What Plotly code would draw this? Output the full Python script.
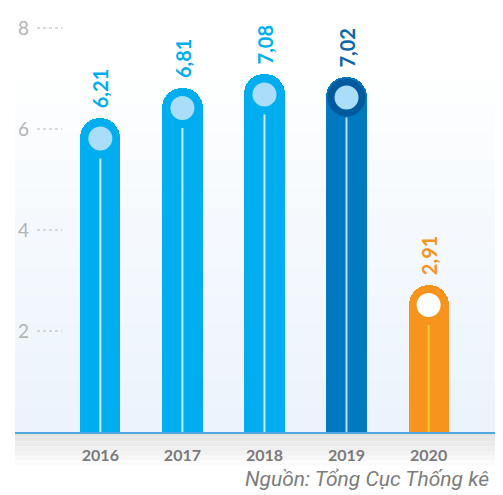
"""Tăng trưởng GDP 2016-2020 (bar chart with rounded caps)."""

import plotly.graph_objects as go

years = ["2016", "2017", "2018", "2019", "2020"]
growth = [6.21, 6.81, 7.08, 7.02, 2.91]
growth_text = ["6,21", "6,81", "7,08", "7,02", "2,91"]
y_ticks = [2, 4, 6, 8]
source = "Nguồn: Tổng Cục Thống kê"

bar_colors = ["#00aeef", "#00aeef", "#00aeef", "#0079c0", "#f7941d"]
label_colors = ["#00aeef", "#00aeef", "#00aeef", "#0a66a8", "#f7941d"]
dot_colors = ["#a9ddf8", "#a9ddf8", "#a9ddf8", "#a9ddf8", "#ffffff"]
ring_colors = ["#00aeef", "#00aeef", "#00aeef", "#005a9e", "#f7941d"]
ring_widths = [0, 0, 0, 7, 0]
dot_sizes = [24, 24, 24, 31, 24]
stem_colors = ["#c9ecfb", "#c9ecfb", "#c9ecfb", "#b7dcf3", "#ffcc33"]

W, H = 503, 495
# the page body has an 8px margin, so the figure is pulled up/left by that much
M = dict(l=7, r=11, t=0, b=71)
plot_h = H - M["t"] - M["b"]
plot_w = W - M["l"] - M["r"]
px_per_unit = 50.5
y_max = plot_h / px_per_unit
cap_r = 20 / px_per_unit  # radius of rounded cap in data units

fig = go.Figure()

fig.add_trace(go.Bar(
    x=years, y=growth, width=0.49,
    marker=dict(color=bar_colors, cornerradius="50%", line_width=0),
    hoverinfo="skip",
))

# thin stem inside each bar
for yr, v, c in zip(years, growth, stem_colors):
    fig.add_trace(go.Scatter(
        x=[yr, yr], y=[0, v - 2 * cap_r], mode="lines",
        line=dict(color=c, width=2), hoverinfo="skip",
    ))

# dot in each cap
fig.add_trace(go.Scatter(
    x=years, y=[v - cap_r for v in growth], mode="markers",
    marker=dict(size=dot_sizes, color=dot_colors, opacity=1,
                line=dict(color=ring_colors, width=ring_widths)),
    hoverinfo="skip",
))

for i, (v, t, c) in enumerate(zip(growth, growth_text, label_colors)):
    fig.add_annotation(
        x=i, y=v, text=t, textangle=-90, showarrow=False,
        xref="x", yref="y", yanchor="bottom", yshift=8,
        font=dict(family="Lato", size=20, color=c, weight=700),
    )

# light blue gradient background in the plot area
n = 14
for i in range(n):
    f = i / (n - 1)
    r = int(0xeb + (0xff - 0xeb) * f)
    g = int(0xf4 + (0xff - 0xf4) * f)
    b = int(0xfc + (0xff - 0xfc) * f)
    fig.add_shape(type="rect", xref="paper", yref="paper", layer="below",
                  x0=0, x1=1, y0=i * 0.9 / n, y1=(i + 1) * 0.9 / n,
                  fillcolor=f"rgb({r},{g},{b})", line_width=0)

# grey fade under the baseline
m = 8
for i in range(m):
    f = i / (m - 1)
    gval = int(0xe3 + (0xff - 0xe3) * f)
    fig.add_shape(type="rect", xref="paper", yref="paper", layer="below",
                  x0=0, x1=1, y0=-i * 0.09 / m, y1=-(i + 1) * 0.09 / m,
                  fillcolor=f"rgb({gval},{gval},{gval})", line_width=0)

# short dotted tick marks
for t in y_ticks:
    fig.add_shape(type="line", xref="paper", yref="y",
                  x0=22 / plot_w, x1=47 / plot_w, y0=t, y1=t,
                  line=dict(color="#b5b5b5", width=1, dash="dot"))

fig.add_annotation(
    x=(235 - M["l"]) / plot_w, y=-33 / plot_h,
    xref="paper", yref="paper", xanchor="left", yanchor="top",
    text=f"<i>{source}</i>", showarrow=False,
    font=dict(family="Roboto", size=21, color="#7d7d7d"),
)

fig.update_layout(
    width=W, height=H, margin=M,
    paper_bgcolor="white", plot_bgcolor="rgba(0,0,0,0)",
    showlegend=False, bargap=0,
)
fig.update_xaxes(
    type="category", range=[-1.04, 4.87], showgrid=False, zeroline=False,
    showline=True, linecolor="#4fa8de", linewidth=1.5, ticks="",
    ticklabelstandoff=8,
    tickfont=dict(family="Lato", size=16, color="#7a7a7a", weight=700),
)
fig.update_yaxes(
    range=[0, y_max], showgrid=False, zeroline=False, showline=False,
    tickvals=y_ticks, ticks="", ticklabelposition="inside",
    tickfont=dict(family="Lato", size=19, color="#b3b3b3"),
)

fig.write_html("out.html")
